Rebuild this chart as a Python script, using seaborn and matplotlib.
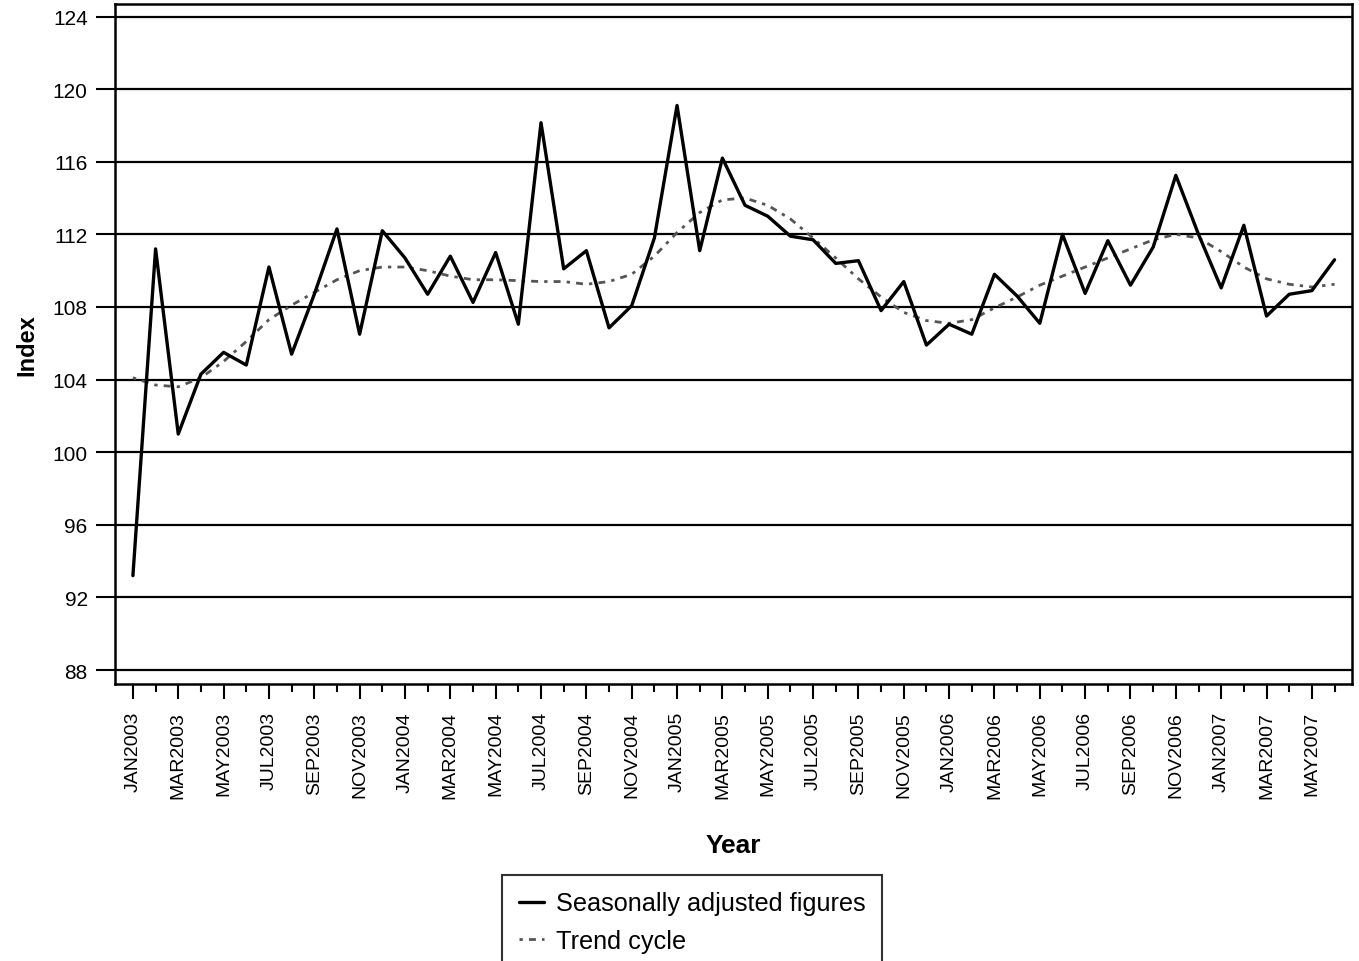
import matplotlib
matplotlib.use("Agg")
import matplotlib.pyplot as plt
from matplotlib.ticker import FixedLocator
import seaborn as sns
import pandas as pd
import numpy as np

months = ["JAN", "FEB", "MAR", "APR", "MAY", "JUN", "JUL", "AUG", "SEP", "OCT", "NOV", "DEC"]
periods = [f"{m}{y}" for y in range(2003, 2008) for m in months][:54]

seasonally_adjusted = [
    93.2, 111.2, 101.0, 104.3, 105.5, 104.8, 110.2, 105.4, 108.7, 112.3, 106.5, 112.2,
    110.7, 108.7, 110.8, 108.25, 111.0, 107.05, 118.15, 110.1, 111.1, 106.85, 108.07, 111.8,
    119.1, 111.1, 116.2, 113.6, 113.0, 111.9, 111.7, 110.4, 110.55, 107.8, 109.4, 105.9,
    107.05, 106.5, 109.8, 108.6, 107.1, 112.0, 108.75, 111.65, 109.2, 111.3, 115.25, 112.0,
    109.05, 112.5, 107.5, 108.7, 108.9, 110.6,
]
trend_cycle = [
    104.1, 103.7, 103.6, 104.1, 105.0, 106.1, 107.3, 108.1, 108.8, 109.5, 110.0, 110.2,
    110.2, 110.0, 109.7, 109.5, 109.5, 109.45, 109.4, 109.4, 109.25, 109.4, 109.8, 110.8,
    112.1, 113.2, 113.9, 114.0, 113.6, 112.85, 111.8, 110.7, 109.55, 108.55, 107.7, 107.25,
    107.1, 107.3, 107.95, 108.55, 109.2, 109.7, 110.2, 110.7, 111.2, 111.7, 112.0, 111.8,
    111.05, 110.2, 109.55, 109.25, 109.1, 109.25,
]
y_ticks = [88, 92, 96, 100, 104, 108, 112, 116, 120, 124]

df = pd.DataFrame({"t": np.arange(len(periods)), "period": periods,
                   "sa": seasonally_adjusted, "trend": trend_cycle})

sns.set_style("white")
plt.rcParams["font.family"] = ["Liberation Sans", "DejaVu Sans"]
plt.rcParams["text.color"] = "black"
plt.rcParams["axes.labelcolor"] = "black"
plt.rcParams["xtick.color"] = "black"
plt.rcParams["ytick.color"] = "black"

fig = plt.figure(figsize=(13.59, 9.62), dpi=100)
ax = fig.add_axes([115 / 1359, 1 - 685 / 962, (1352 - 115) / 1359, (685 - 5) / 962])

for v in y_ticks:
    ax.axhline(v, color="black", lw=1.6, zorder=1)

sns.lineplot(data=df, x="t", y="sa", ax=ax, color="black", lw=2.4,
             label="Seasonally adjusted figures", zorder=3)
sns.lineplot(data=df, x="t", y="trend", ax=ax, color="#555555", lw=2.0,
             linestyle=(0, (1.2, 2.2, 2.5, 2.2)), label="Trend cycle", zorder=2)

ax.set_xlim(-0.79, 53.77)
ax.set_ylim(87.23, 124.69)
ax.yaxis.set_major_locator(FixedLocator(y_ticks))
ax.set_yticklabels([str(v) for v in y_ticks], fontsize=15)

major_pos = list(range(0, len(periods), 2))
ax.xaxis.set_major_locator(FixedLocator(major_pos))
ax.xaxis.set_minor_locator(FixedLocator(list(range(1, len(periods), 2))))
ax.set_xticklabels([periods[i] for i in major_pos], rotation=90, fontsize=14)

ax.tick_params(axis="x", which="major", direction="out", length=11, width=1.5, pad=8.5, bottom=True)
ax.tick_params(axis="x", which="minor", direction="out", length=6, width=1.5, bottom=True)
ax.tick_params(axis="y", which="major", direction="out", length=13.7, width=1.5, pad=6, left=True)

for s in ax.spines.values():
    s.set_color("black")
    s.set_linewidth(1.8)
    s.set_visible(True)

ax.set_xlabel("Year", fontsize=19, fontweight="bold", labelpad=25)
ax.set_ylabel("Index", fontsize=17, fontweight="bold", labelpad=10)

ax.get_legend().remove()
handles, labels = ax.get_legend_handles_labels()
leg = fig.legend(handles, labels, loc="upper center",
                 bbox_to_anchor=(692 / 1359, 1 - 876 / 962),
                 frameon=True, fancybox=False, edgecolor="black",
                 prop={"family": ["Liberation Sans", "DejaVu Sans"], "size": 18.2},
                 handlelength=1.0, handletextpad=0.45, borderpad=0.65, labelspacing=0.54,
                 borderaxespad=0)
leg.get_frame().set_linewidth(1.5)

fig.savefig("out.png", dpi=100)
